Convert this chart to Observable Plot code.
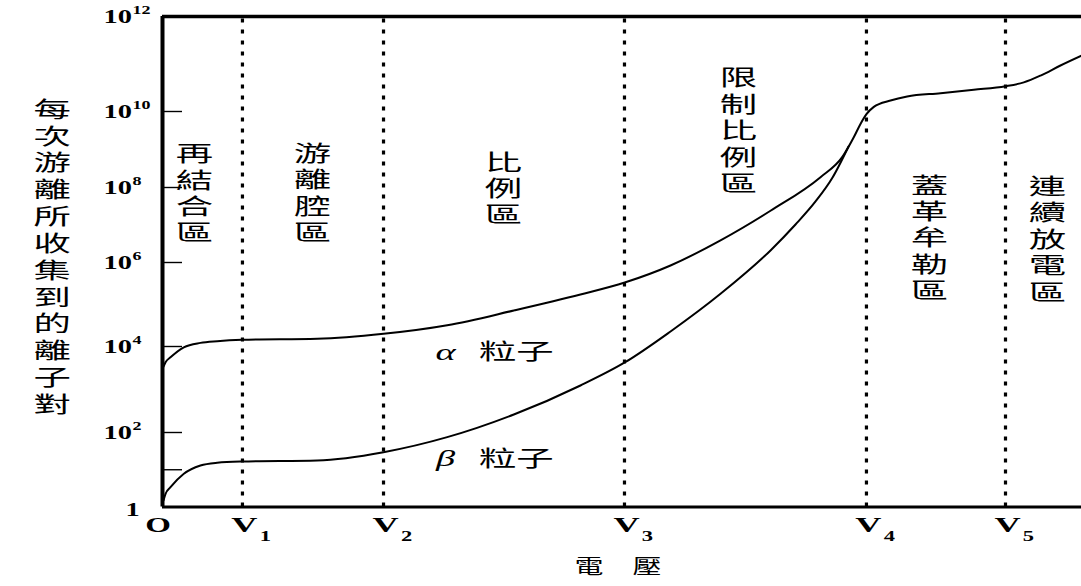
<!DOCTYPE html>
<html><head><meta charset="utf-8">
<script src="https://cdn.jsdelivr.net/npm/d3@7"></script>
<script src="https://cdn.jsdelivr.net/npm/@observablehq/plot@0.6"></script>
<style>body{margin:0;background:#fff}</style>
</head><body><div id="chart"></div>
<script>
// ---- data ----
const boundaryVoltages = [0.870, 2.405, 5.027, 7.660, 9.173];   // V1..V5
const boundarySubscripts = ["1", "2", "3", "4", "5"];
const yExponents = [12, 10, 8, 6, 4, 2];
const yTickValues = [1e1, 1e2, 1e4, 1e6, 1e8, 1e10];
const yScaleDomain = [1, 1e2, 1e4, 1e6, 1e8, 1e10, 1e12];

const alphaVoltage = [0.011, 0.033, 0.087, 0.232, 0.413, 0.595, 0.867, 1.683, 2.405, 3.098, 3.823, 4.548, 5.030, 5.528, 6.072, 6.616, 7.160, 7.396, 7.522, 7.595, 7.660, 7.740, 7.922, 8.103, 8.466, 8.828, 9.173, 9.372, 9.554, 9.771, 10.0];
const alphaPairs = [3.4e3, 4.3e3, 5.6e3, 9.6e3, 1.22e4, 1.34e4, 1.44e4, 1.52e4, 2.0e4, 3.2e4, 7.2e4, 1.73e5, 3.34e5, 8.5e5, 3.9e6, 2.4e7, 1.87e8, 6.3e8, 2.1e9, 4.7e9, 8.5e9, 1.25e10, 1.7e10, 2.07e10, 2.43e10, 2.87e10, 3.4e10, 4.1e10, 5.7e10, 9.3e10, 1.5e11];

const betaVoltage = [0.011, 0.033, 0.087, 0.232, 0.413, 0.595, 0.867, 1.683, 2.405, 3.098, 3.823, 4.548, 5.030, 5.528, 6.072, 6.616, 6.888, 7.106, 7.291, 7.465];
const betaPairs = [1.5, 2.26, 3.4, 7.8, 13, 15.4, 16.6, 17.7, 29.6, 75, 262, 1.24e3, 4.25e3, 2.28e4, 1.8e5, 2.1e6, 1.03e7, 4.24e7, 1.83e8, 1.2e9];

const regionNames = ["再結合區", "游離腔區", "比例區", "限制比例區", "蓋革牟勒區", "連續放電區"];
const regionVoltage = [0.348, 1.632, 3.711, 6.268, 8.346, 9.630];
const regionLevel = [7.4e7, 7.6e7, 1e8, 3.3e9, 4.8e6, 4.4e6];

const particleSymbols = ["α", "β"];
const particleName = "粒子";
const particleSymbolVoltage = 3.08;
const particleNameVoltage = 3.85;
const particleLevel = [7.4e3, 19.7];

const yTitle = "每次游離所收集到的離子對";
const xTitle = "電　壓";

// ---- build ----
const alpha = alphaVoltage.map((v, i) => ({v, n: alphaPairs[i]}));
const beta = betaVoltage.map((v, i) => ({v, n: betaPairs[i]}));
const regions = regionNames.map((name, i) => ({name, v: regionVoltage[i], n: regionLevel[i]}));
const particles = particleSymbols.map((s, i) => ({s, n: particleLevel[i]}));

const serif = "Liberation Serif, Times New Roman, serif";
const cjk = "Noto Sans CJK TC, Noto Sans CJK SC, sans-serif";

const plot = Plot.plot({
  width: 1081,
  height: 586,
  marginLeft: 162,
  marginRight: 0,
  marginTop: 16,
  marginBottom: 79.5,
  style: {background: "#fff", overflow: "visible"},
  x: {domain: [0, 10], range: [162, 1081], axis: null},
  y: {type: "log", domain: yScaleDomain, range: [506.5, 432, 346, 262, 187, 111, 16], axis: null},
  marks: [
    // dotted region boundaries
    Plot.ruleX(boundaryVoltages, {x: d => d, y1: 1, y2: 1e12, stroke: "#000", strokeWidth: 3.2, strokeDasharray: "4,7"}),
    // inner ticks
    Plot.tickY(yTickValues, {y: d => d, stroke: "#000", strokeWidth: 1.4, insetRight: 1081 - 162 - 20}),
    // frame lines
    Plot.ruleY([1], {stroke: "#000", strokeWidth: 3}),
    Plot.ruleY([1e12], {stroke: "#000", strokeWidth: 3.5}),
    Plot.ruleX([0], {stroke: "#000", strokeWidth: 4}),
    // curves
    Plot.line(beta, {x: "v", y: "n", curve: "monotone-x", stroke: "#000", strokeWidth: 2}),
    Plot.line(alpha, {x: "v", y: "n", curve: "monotone-x", stroke: "#000", strokeWidth: 2}),
    // y tick labels
    Plot.text(yExponents, {y: e => 10 ** e, text: () => "10", frameAnchor: "left", dx: -59, textAnchor: "start",
      fontFamily: serif, fontWeight: "bold", fontSize: 19, fill: "#000", ariaDescription: "stretch 1.5"}),
    Plot.text(yExponents, {y: e => 10 ** e, text: e => String(e), frameAnchor: "left", dx: -30, dy: -6, textAnchor: "start",
      fontFamily: serif, fontWeight: "bold", fontSize: 12, fill: "#000", ariaDescription: "stretch 1.5"}),
    Plot.text(["1"], {y: () => 1, text: d => d, frameAnchor: "left", dx: -37, dy: 3,
      fontFamily: serif, fontWeight: "bold", fontSize: 19, fill: "#000", ariaDescription: "stretch 1.5"}),
    // x tick labels
    Plot.text(["O"], {x: () => 0, text: d => d, frameAnchor: "bottom", dx: -4.5, dy: 25,
      fontFamily: serif, fontWeight: "bold", fontSize: 22, fill: "#000", ariaDescription: "stretch 1.5"}),
    Plot.text(boundaryVoltages, {x: d => d, text: () => "V", frameAnchor: "bottom", dx: 2, dy: 25,
      fontFamily: serif, fontWeight: "bold", fontSize: 22, fill: "#000", ariaDescription: "stretch 1.65"}),
    Plot.text(boundaryVoltages, {x: d => d, text: (d, i) => boundarySubscripts[i], frameAnchor: "bottom", dx: 23, dy: 34,
      fontFamily: serif, fontWeight: "bold", fontSize: 15, fill: "#000", ariaDescription: "stretch 1.5"}),
    // region labels
    Plot.text(regions, {x: "v", y: "n", text: d => d.name.split("").join("\n"), lineHeight: 1.2, lineAnchor: "middle",
      fontFamily: cjk, fontSize: 22, fill: "#000", ariaDescription: "stretch 1.7"}),
    // particle labels
    Plot.text(particles, {x: () => particleSymbolVoltage, y: "n", text: "s",
      fontFamily: serif, fontStyle: "italic", fontSize: 24, fill: "#000", ariaDescription: "stretch 1.6"}),
    Plot.text(particles, {x: () => particleNameVoltage, y: "n", text: () => particleName,
      fontFamily: cjk, fontSize: 22, fill: "#000", ariaDescription: "stretch 1.7"}),
    // axis titles
    Plot.text([yTitle], {text: d => d.split("").join("\n"), frameAnchor: "left", dx: -129, dy: -6, lineHeight: 1.22,
      fontFamily: cjk, fontSize: 22, fill: "#000", ariaDescription: "stretch 1.7"}),
    Plot.text([xTitle], {text: d => d, frameAnchor: "bottom", dx: -4, dy: 67,
      fontFamily: cjk, fontSize: 20, fill: "#000", ariaDescription: "stretch 1.45"})
  ]
});

// horizontally stretch glyphs (the reference image is widened)
plot.querySelectorAll('g[aria-description^="stretch"]').forEach(g => {
  const sx = +g.getAttribute("aria-description").split(" ")[1];
  g.querySelectorAll("text").forEach(t => {
    let tr = t.getAttribute("transform");
    if (!tr) {
      const x = +(t.getAttribute("x") || 0), y = +(t.getAttribute("y") || 0);
      t.removeAttribute("x"); t.removeAttribute("y");
      tr = `translate(${x},${y})`;
    }
    t.setAttribute("transform", `${tr} scale(${sx},1)`);
  });
});

document.getElementById("chart").append(plot);
</script>
</body></html>
